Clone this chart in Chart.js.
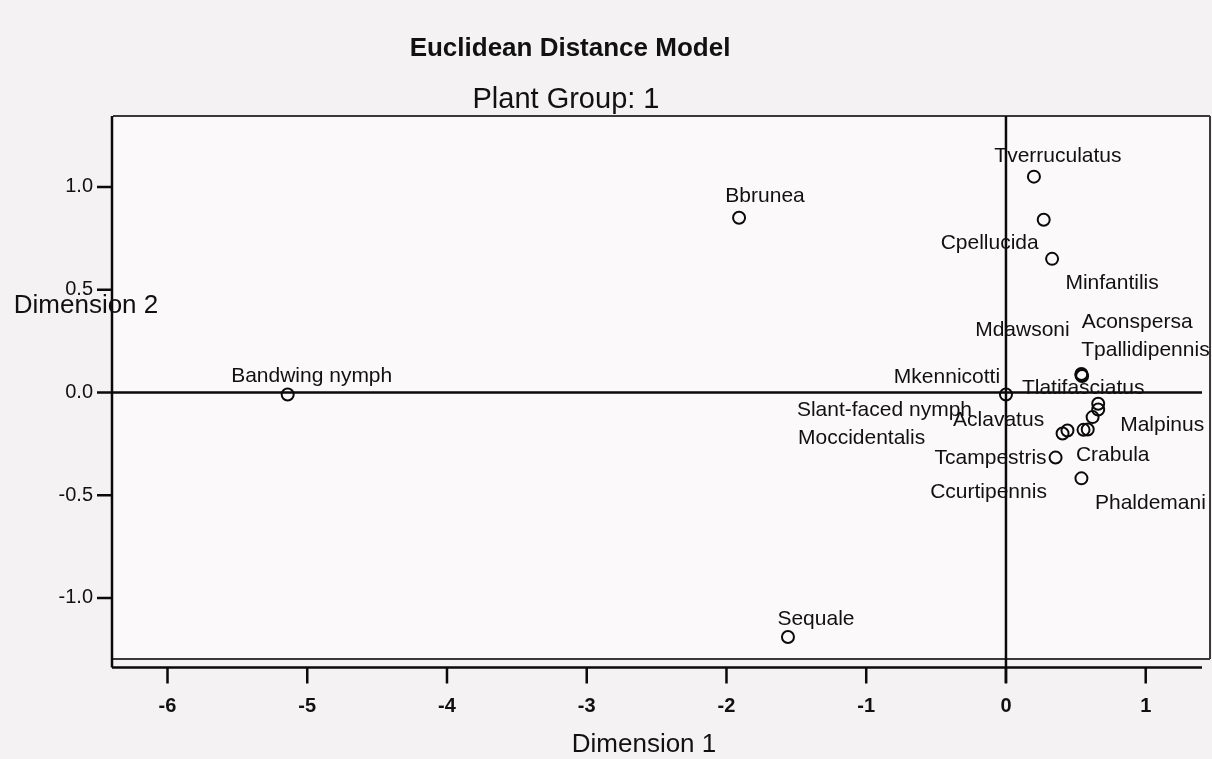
<!DOCTYPE html>
<html>
<head>
<meta charset="utf-8">
<title>Euclidean Distance Model</title>
<script src="https://cdn.jsdelivr.net/npm/chart.js@4.4.0/dist/chart.umd.min.js"></script>
<style>
    body { margin: 0; background: #f4f2f2; }
    #wrap { width: 1212px; height: 759px; position: relative; }
</style>
</head>
<body>
<div id="wrap"><canvas id="myChart"></canvas></div>
<script>
// Datos (coordenadas del modelo)
const names = ['Bandwing nymph', 'Bbrunea', 'Sequale', 'Tverruculatus', 'Cpellucida', 'Minfantilis',
    'Mdawsoni', 'Aconspersa', 'Tpallidipennis', 'Mkennicotti', 'Tlatifasciatus', 'Slant-faced nymph',
    'Aclavatus', 'Malpinus', 'Moccidentalis', 'Tcampestris', 'Crabula', 'Ccurtipennis', 'Phaldemani'];
const dim1 = [-5.14, -1.91, -1.56, 0.20, 0.27, 0.33, 0.54, 0.545, 0.54, 0.0, 0.66, 0.44,
    0.62, 0.66, 0.405, 0.355, 0.585, 0.555, 0.54];
const dim2 = [-0.01, 0.85, -1.19, 1.05, 0.84, 0.65, 0.09, 0.08, 0.085, -0.01, -0.055, -0.185,
    -0.12, -0.083, -0.2, -0.317, -0.18, -0.182, -0.418];
const xTicks = [-6, -5, -4, -3, -2, -1, 0, 1];
const yTicks = [-1.0, -0.5, 0.0, 0.5, 1.0];

// Desplazamiento de cada etiqueta respecto a su punto (px)
const labelOffsets = [[24, -18], [26, -22], [28, -18], [24, -20], [-54, 23], [60, 24],
    [-59, -44], [55, -54], [64, -25], [-59, -17], [-15, -16], [-183, -20],
    [-94, 3], [64, 16], [-201, 5], [-65, 1], [25, 26], [-95, 62], [69, 25]];

const FONT = '"Liberation Sans", Arial, sans-serif';

const points = dim1.map((x, i) => ({x: x, y: dim2[i]}));

// Plugin para marco, ejes, etiquetas y títulos
const spssLook = {
    id: 'spssLook',
    beforeDraw(chart) {
        const {ctx, chartArea: a, scales} = chart;
        ctx.save();
        ctx.fillStyle = '#f4f2f2';
        ctx.fillRect(0, 0, chart.width, chart.height);
        ctx.fillStyle = '#fbf9f9';
        ctx.fillRect(a.left, a.top, a.right - a.left, a.bottom - a.top);

        // marco
        ctx.strokeStyle = '#3a3a3a';
        ctx.lineWidth = 2;
        ctx.beginPath();
        ctx.moveTo(a.left, a.top); ctx.lineTo(a.right, a.top);
        ctx.moveTo(a.right, a.top); ctx.lineTo(a.right, a.bottom);
        ctx.moveTo(a.left, a.bottom); ctx.lineTo(a.right, a.bottom);
        ctx.stroke();

        // líneas de referencia en 0
        const x0 = scales.x.getPixelForValue(0);
        const y0 = scales.y.getPixelForValue(0);
        ctx.strokeStyle = '#0a0a0a';
        ctx.lineWidth = 2.5;
        ctx.beginPath();
        ctx.moveTo(a.left, y0); ctx.lineTo(a.right - 8, y0);
        ctx.moveTo(x0, a.top); ctx.lineTo(x0, a.bottom + 24);
        ctx.stroke();
        ctx.restore();
    },
    afterDatasetsDraw(chart) {
        const {ctx, chartArea: a, scales} = chart;
        const axisY = a.bottom + 8.5;
        const axisX = a.left - 1;
        ctx.save();
        ctx.strokeStyle = '#0a0a0a';
        ctx.lineWidth = 2.5;
        ctx.beginPath();
        ctx.moveTo(axisX, a.top); ctx.lineTo(axisX, axisY);
        ctx.moveTo(axisX, axisY); ctx.lineTo(a.right - 8, axisY);
        xTicks.forEach(v => {
            const px = scales.x.getPixelForValue(v);
            ctx.moveTo(px, axisY); ctx.lineTo(px, axisY + 16);
        });
        yTicks.forEach(v => {
            const py = scales.y.getPixelForValue(v);
            ctx.moveTo(axisX - 15, py); ctx.lineTo(axisX, py);
        });
        ctx.stroke();

        // etiquetas de los puntos
        ctx.fillStyle = '#111';
        ctx.font = '21px ' + FONT;
        ctx.textAlign = 'center';
        ctx.textBaseline = 'middle';
        points.forEach((p, i) => {
            const px = scales.x.getPixelForValue(p.x);
            const py = scales.y.getPixelForValue(p.y);
            ctx.fillText(names[i], px + labelOffsets[i][0], py + labelOffsets[i][1]);
        });

        // títulos
        ctx.font = 'bold 26px ' + FONT;
        ctx.fillText('Euclidean Distance Model', 570, 49);
        ctx.font = '29px ' + FONT;
        ctx.fillText('Plant Group: 1', 566, 100);
        ctx.font = '26px ' + FONT;
        ctx.fillText('Dimension 1', 644, 745);
        ctx.fillText('Dimension 2', 86, 306);
        ctx.restore();
    }
};

// Quitar el relleno automático que Chart.js añade por las etiquetas de los extremos
const noPad = s => {
    s.paddingLeft = 0;
    s.paddingRight = 0;
    s.paddingTop = 0;
    s.paddingBottom = 0;
};

const ctx = document.getElementById('myChart');

new Chart(ctx, {
    type: 'scatter',
    data: {
        datasets: [{
            label: 'Plant Group: 1',
            data: points,
            pointRadius: 6,
            pointHoverRadius: 6,
            pointBorderWidth: 2,
            pointBorderColor: '#0a0a0a',
            pointBackgroundColor: 'rgba(0,0,0,0)',
            showLine: false
        }]
    },
    options: {
        responsive: true,
        maintainAspectRatio: false,
        animation: false,
        layout: {autoPadding: false, padding: {top: 116, right: 2, bottom: 0, left: 0}},
        plugins: {
            legend: {display: false},
            tooltip: {enabled: false}
        },
        scales: {
            x: {
                type: 'linear',
                min: -6.39,
                max: 1.46,
                grid: {display: false, drawTicks: true, tickLength: 24},
                border: {display: false},
                afterFit: s => { s.height = 100; noPad(s); },
                afterBuildTicks: s => { s.ticks = xTicks.map(v => ({value: v})); },
                ticks: {
                    color: '#111',
                    padding: 11,
                    maxRotation: 0,
                    font: {family: FONT, size: 20, weight: 'bold'},
                    callback: v => String(v)
                }
            },
            y: {
                type: 'linear',
                min: -1.297,
                max: 1.345,
                grid: {display: false, drawTicks: true, tickLength: 15},
                border: {display: false},
                afterFit: s => { s.width = 113; noPad(s); },
                afterBuildTicks: s => { s.ticks = yTicks.map(v => ({value: v})); },
                ticks: {
                    color: '#111',
                    padding: 5,
                    font: {family: FONT, size: 20},
                    callback: v => Number(v).toFixed(1)
                }
            }
        }
    },
    plugins: [spssLook]
});
</script>
</body>
</html>
